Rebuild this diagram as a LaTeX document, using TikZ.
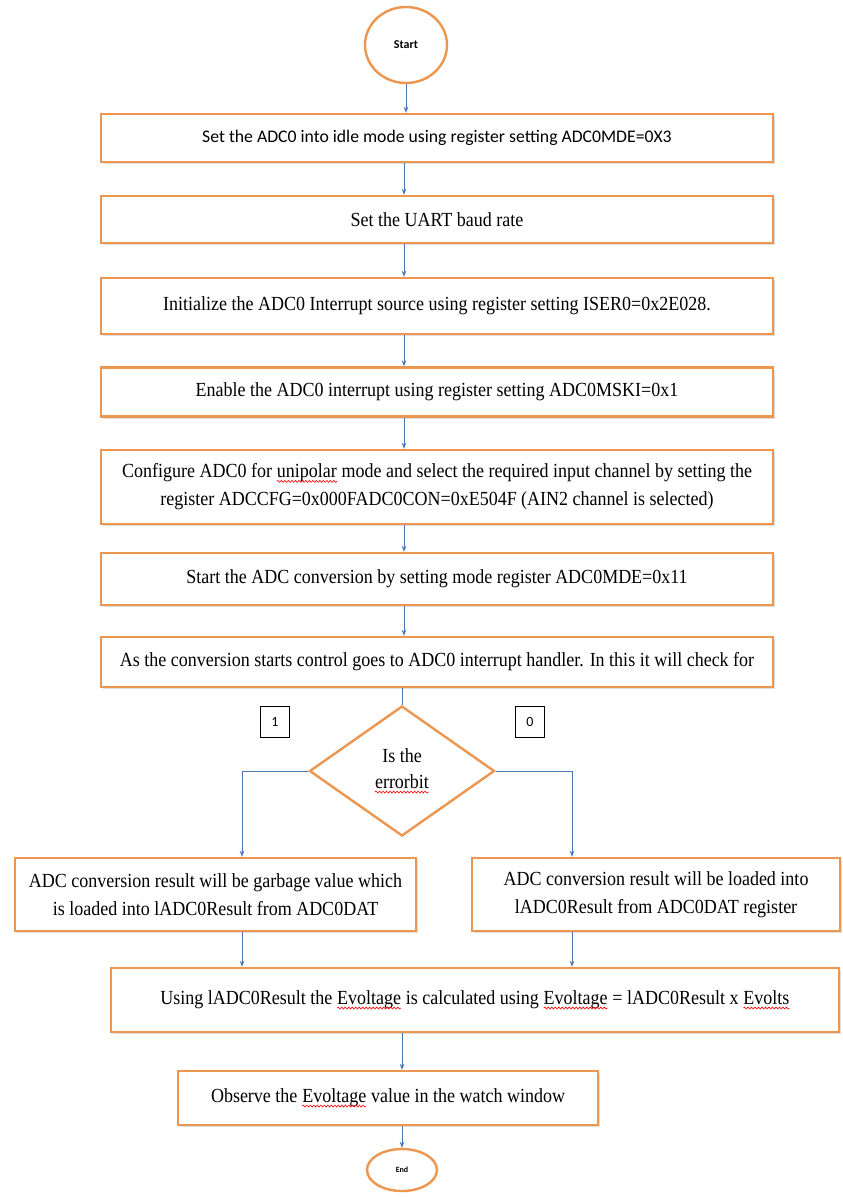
\documentclass[tikz,border=0pt]{standalone}
\usepackage{fontspec}
\setmainfont[FakeStretch=0.9]{Liberation Serif}
\newfontfamily\carl{Carlito}
\usetikzlibrary{shapes.geometric,arrows.meta,shadows,decorations.pathmorphing}
\definecolor{boxor}{RGB}{236,150,80}
\definecolor{arrblue}{RGB}{74,118,178}
\newcommand\sq[1]{\tikz[baseline=(w.base)]{\node[shape=rectangle,draw=none,fill=none,inner sep=0pt,outer sep=0pt,minimum width=0pt,minimum height=0pt](w){#1};\draw[red,line width=0.6pt,decorate,decoration={snake,amplitude=1pt,segment length=3.5pt}]([yshift=-3.5pt]w.base west)--([yshift=-3.5pt]w.base east);}}
\begin{document}
\begin{tikzpicture}[x=1pt,y=-1pt,
  stepbox/.style={draw=boxor, line width=2.4pt, fill=white, rectangle, align=center,
     inner sep=2pt, font=\fontsize{20}{28}\selectfont,
     drop shadow={opacity=0.25, shadow xshift=2pt, shadow yshift=-2pt}},
  term/.style={draw=boxor, line width=2.4pt, fill=white, ellipse, inner sep=0pt},
  decide/.style={draw=boxor, line width=2.4pt, fill=white, diamond, inner sep=0pt, align=center,
     font=\fontsize{20}{26}\selectfont},
  lbl/.style={draw=black, line width=0.8pt, fill=white, rectangle, inner sep=0pt,
     font=\carl\fontsize{14}{16}\selectfont},
  arr/.style={draw=arrblue, line width=0.8pt, -{Stealth[length=6pt,width=4.5pt]}},
  ln/.style={draw=arrblue, line width=0.8pt}]
\useasboundingbox[fill=white] (0,0) rectangle (843,1200);
\coordinate (ax) at (404,0);
\node[term, minimum width=82pt, minimum height=76pt, font=\carl\bfseries\fontsize{12}{14}\selectfont] (start) at (406,45) {Start};
\node[stepbox, minimum width=672pt, minimum height=48pt, font=\carl\fontsize{17.7}{21}\selectfont] (b1) at (437,138) {Set the ADC0 into idle mode using register setting ADC0MDE=0X3};
\node[stepbox, minimum width=672pt, minimum height=47pt] (b2) at (437,219.5) {Set the UART baud rate};
\node[stepbox, minimum width=672pt, minimum height=56pt] (b3) at (437,306) {Initialize the ADC0 Interrupt source using register setting ISER0=0x2E028.};
\node[stepbox, minimum width=672pt, minimum height=49pt] (b4) at (437,392) {Enable the ADC0 interrupt using register setting ADC0MSKI=0x1};
\node[stepbox, minimum width=672pt, minimum height=74pt] (b5) at (437,487) {Configure ADC0 for \sq{unipolar} mode and select the required input channel by setting the\\register ADCCFG=0x000FADC0CON=0xE504F (AIN2 channel is selected)};
\node[stepbox, minimum width=672pt, minimum height=52pt] (b6) at (437,579) {Start the ADC conversion by setting mode register ADC0MDE=0x11};
\node[stepbox, minimum width=672pt, minimum height=50pt] (b7) at (437,662) {As the conversion starts control goes to ADC0 interrupt handler. In this it will check for};
\node[decide, minimum width=185pt, minimum height=130pt] (d) at (402,771) {Is the\\\sq{errorbit}};
\node[lbl, minimum width=29pt, minimum height=31pt] (l1) at (275,722) {1};
\node[lbl, minimum width=29pt, minimum height=31pt] (l0) at (530,722) {0};
\node[stepbox, minimum width=401pt, minimum height=73pt] (b8l) at (215.5,894.5) {ADC conversion result will be garbage value which\\is loaded into lADC0Result from ADC0DAT};
\node[stepbox, minimum width=368pt, minimum height=73pt] (b8r) at (656,894.5) {ADC conversion result will be loaded into\\lADC0Result from ADC0DAT register};
\node[stepbox, minimum width=728pt, minimum height=64pt] (b9) at (475,1000) {Using lADC0Result the \sq{Evoltage} is calculated using \sq{Evoltage} = lADC0Result x \sq{Evolts}};
\node[stepbox, minimum width=420pt, minimum height=54pt] (b10) at (388,1098) {Observe the \sq{Evoltage} value in the watch window};
\node[term, minimum width=70pt, minimum height=42pt, font=\carl\bfseries\fontsize{8}{9}\selectfont] (end) at (402,1170) {End};
\coordinate (xl) at (242,0);
\coordinate (xr) at (572,0);
\draw[arr] (start.south) -- (start.south |- b1.north);
\draw[arr] (b1.south -| ax) -- (b2.north -| ax);
\draw[arr] (b2.south -| ax) -- (b3.north -| ax);
\draw[arr] (b3.south -| ax) -- (b4.north -| ax);
\draw[arr] (b4.south -| ax) -- (b5.north -| ax);
\draw[arr] (b5.south -| ax) -- (b6.north -| ax);
\draw[arr] (b6.south -| ax) -- (b7.north -| ax);
\draw[ln] (b7.south -| d.north) -- (d.north);
\draw[arr] (d.west) -- (d.west -| xl) -- (b8l.north -| xl);
\draw[arr] (d.east) -- (d.east -| xr) -- (b8r.north -| xr);
\draw[arr] (b8l.south -| xl) -- (b9.north -| xl);
\draw[arr] (b8r.south -| xr) -- (b9.north -| xr);
\draw[arr] (b9.south -| end.north) -- (b10.north -| end.north);
\draw[arr] (b10.south -| end.north) -- (end.north);
\end{tikzpicture}
\end{document}
